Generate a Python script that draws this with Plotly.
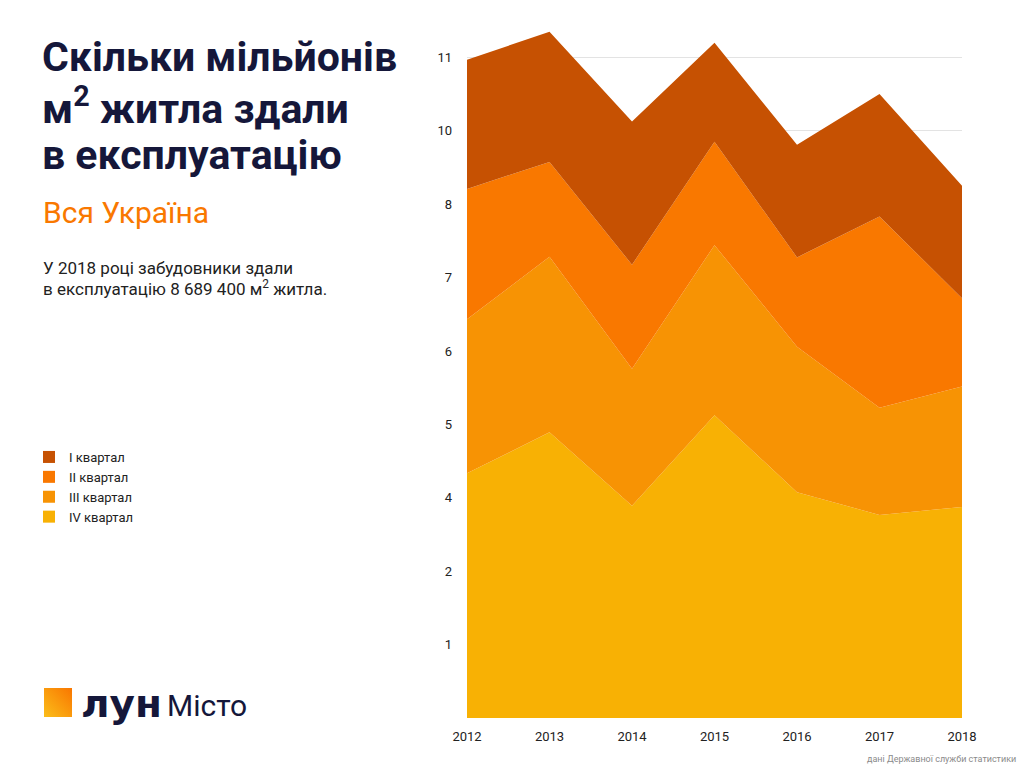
import base64
import plotly.graph_objects as go

# ---- data (million m², stacked by quarter) ----
years = [2012, 2013, 2014, 2015, 2016, 2017, 2018]
q4 = [4.00, 4.67, 3.47, 4.95, 3.69, 3.32, 3.45]
q3 = [2.52, 2.87, 2.24, 2.78, 2.38, 1.75, 1.97]
q2 = [2.13, 1.55, 1.70, 1.69, 1.46, 3.13, 1.44]
q1 = [2.11, 2.13, 2.34, 1.62, 1.84, 2.00, 1.84]

series_names = ["IV квартал", "III квартал", "II квартал", "I квартал"]
series_vals = [q4, q3, q2, q1]
series_colors = ["#F8B104", "#F79304", "#F97800", "#C65102"]

y_tickvals = [1.2, 2.4, 3.6, 4.8, 6.0, 7.2, 8.4, 9.6, 10.8]
y_ticktext = ["1", "2", "4", "5", "6", "7", "8", "10", "11"]

# ---- layout geometry (pixels) ----
W, H = 1024, 768
L, R, T, B = 467, 962, 20, 718
PX_PER_UNIT = 61.17
y_top = (B - T) / PX_PER_UNIT


def xp(px):
    return (px - L) / (R - L)


def yp(py):
    return (B - py) / (B - T)


fig = go.Figure()

for name, vals, col in zip(series_names, series_vals, series_colors):
    fig.add_trace(go.Scatter(
        x=years, y=vals, name=name, stackgroup="one", mode="none",
        fillcolor=col, line=dict(width=0), showlegend=False,
        hoverinfo="x+y+name",
    ))

# legend entries (square swatches), top to bottom I..IV
for name, col in zip(series_names[::-1], series_colors[::-1]):
    fig.add_trace(go.Scatter(
        x=[None], y=[None], mode="markers", name=name,
        marker=dict(symbol="square", size=12, color=col),
        showlegend=True,
    ))

NAVY = "#15173A"
FONT = "Roboto"

ann = []
title_lines = ["Скільки мільйонів", "м<sup>2</sup> житла здали", "в експлуатацію"]
for i, line in enumerate(title_lines):
    ann.append(dict(
        text="<b>" + line + "</b>", x=xp(40), y=yp(57 + 49 * i),
        xref="paper", yref="paper", xanchor="left", yanchor="middle",
        showarrow=False, font=dict(family=FONT, size=41, color=NAVY),
    ))
ann.append(dict(
    text="Вся Україна", x=xp(41), y=yp(212), xref="paper", yref="paper",
    xanchor="left", yanchor="middle", showarrow=False,
    font=dict(family=FONT, size=30, color="#F97800"),
))
para = ["У 2018 році забудовники здали",
        "в експлуатацію 8 689 400 м<sup>2</sup> житла."]
for i, line in enumerate(para):
    ann.append(dict(
        text=line, x=xp(41), y=yp(268 + 20 * i), xref="paper", yref="paper",
        xanchor="left", yanchor="middle", showarrow=False,
        font=dict(family=FONT, size=17, color="#222222"),
    ))
# logo wordmark
ann.append(dict(
    text="<b>лун</b>", x=xp(79), y=yp(703), xref="paper", yref="paper",
    xanchor="left", yanchor="middle", showarrow=False,
    font=dict(family="DejaVu Sans", size=39, color=NAVY),
))
ann.append(dict(
    text="Місто", x=xp(165), y=yp(705), xref="paper", yref="paper",
    xanchor="left", yanchor="middle", showarrow=False,
    font=dict(family=FONT, size=30, color=NAVY),
))
ann.append(dict(
    text="дані Державної служби статистики", x=xp(1018), y=yp(759),
    xref="paper", yref="paper", xanchor="right", yanchor="middle",
    showarrow=False, font=dict(family=FONT, size=9, color="#8A8A8A"),
))

svg = ('<svg xmlns="http://www.w3.org/2000/svg" width="28" height="29">'
       '<defs><linearGradient id="g" x1="0" y1="1" x2="1" y2="0">'
       '<stop offset="0" stop-color="#FBBE1A"/><stop offset="1" stop-color="#F97600"/>'
       '</linearGradient></defs><rect width="28" height="29" fill="url(#g)"/></svg>')
svg_uri = "data:image/svg+xml;base64," + base64.b64encode(svg.encode()).decode()

fig.update_layout(
    width=W, height=H, autosize=False,
    margin=dict(l=L, r=W - R, t=T, b=H - B, pad=0),
    paper_bgcolor="white", plot_bgcolor="white",
    font=dict(family=FONT, size=13, color="#222222"),
    showlegend=True,
    legend=dict(
        x=xp(29), y=yp(442), xanchor="left", yanchor="top",
        orientation="v", font=dict(family=FONT, size=13, color="#222222"),
        bgcolor="rgba(0,0,0,0)", tracegroupgap=0, traceorder="normal",
    ),
    annotations=ann,
    images=[dict(source=svg_uri, xref="paper", yref="paper",
                 x=xp(44), y=yp(688), sizex=xp(72) - xp(44),
                 sizey=yp(688) - yp(717), xanchor="left", yanchor="top",
                 sizing="stretch", layer="above")],
    xaxis=dict(
        range=[2012, 2018], tickvals=years, ticktext=[str(y) for y in years],
        showgrid=False, zeroline=False, showline=False, ticks="",
        tickfont=dict(family=FONT, size=13, color="#222222"),
        ticklabelstandoff=9, fixedrange=True,
    ),
    yaxis=dict(
        range=[0, y_top], tickvals=y_tickvals, ticktext=y_ticktext,
        showgrid=True, gridcolor="#E3E3E3", gridwidth=1,
        zeroline=False, showline=False, ticks="",
        tickfont=dict(family=FONT, size=13, color="#222222"),
        ticklabelstandoff=14, fixedrange=True,
    ),
)

fig.write_html(
    "out.html",
    config={"displayModeBar": False},
    post_script="document.body.style.margin='0';document.body.style.overflow='hidden';",
)
